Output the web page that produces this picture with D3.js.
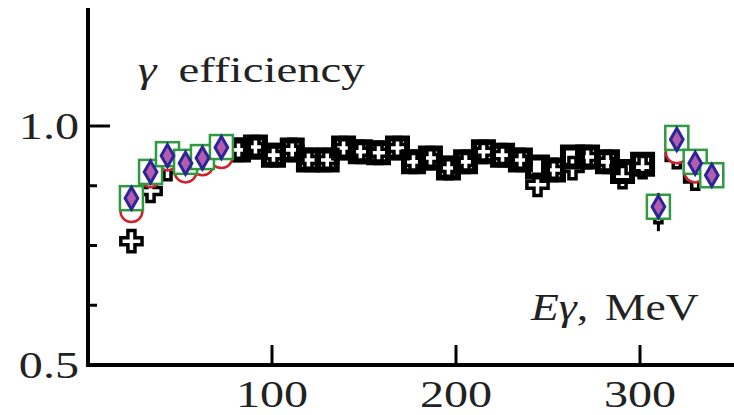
<!DOCTYPE html>
<html lang="en">
<head>
<meta charset="UTF-8">
<title>gamma efficiency</title>
<script src="https://cdn.jsdelivr.net/npm/d3@7"></script>
<style>
  body { margin: 0; background: #fff; }
  text { font-family: "Liberation Serif", "DejaVu Serif", serif; fill: #222; }
</style>
</head>
<body>
<svg width="734" height="415"></svg>
<script>
// photon energies (MeV) and efficiencies
var crossE = [23.6, 34, 43.2, 53, 62.2, 72.5, 81.8, 91, 100.8, 111, 119.8, 130, 138.9, 148, 157.9, 168.2, 176.9, 186.1,
              195.9, 205.2, 214.9, 225.3, 235, 244.3, 253, 263.3, 271.5, 282.3, 290.5, 301.4, 310, 320, 330, 339];
var crossV = [0.759, 0.864, 0.910, 0.915, 0.925, 0.940, 0.950, 0.956, 0.939, 0.950, 0.929, 0.929, 0.954, 0.946, 0.944, 0.954, 0.925, 0.933,
              0.912, 0.925, 0.946, 0.939, 0.929, 0.877, 0.908, 0.912, 0.935, 0.925, 0.893, 0.914, 0.820, 0.935, 0.890, 0.897];
var crossErr = [0.01, 0.01, 0.01, 0.01, 0.01, 0.01, 0.01, 0.01, 0.012, 0.012, 0.012, 0.012, 0.012, 0.012, 0.012, 0.012, 0.012, 0.012,
                0.015, 0.015, 0.015, 0.015, 0.015, 0.015, 0.015, 0.015, 0.015, 0.015, 0.018, 0.018, 0.04, 0.02, 0.02, 0.02];

var squareE = [81.8, 91, 100.8, 111, 119.8, 130, 138.9, 148, 157.9, 168.2, 176.9, 186.1, 195.9, 205.2, 214.9, 225.3,
               235, 244.3, 253, 263.3, 271.5, 282.3, 290.5, 301.4];
var squareV = [0.950, 0.956, 0.939, 0.950, 0.929, 0.929, 0.954, 0.946, 0.944, 0.954, 0.925, 0.933, 0.912, 0.925, 0.946, 0.939,
               0.929, 0.914, 0.908, 0.935, 0.935, 0.925, 0.905, 0.920];

var colE = [23.6, 34, 43.2, 53, 62.2, 72.5, 310, 320, 330, 339];
var greenV = [0.849, 0.904, 0.941, 0.925, 0.935, 0.956, 0.831, 0.975, 0.925, 0.897];
var redV = [0.822, 0.895, 0.930, 0.905, 0.920, 0.935, 0.831, 0.945, 0.905, 0.897];
var diamondV = [0.849, 0.904, 0.938, 0.922, 0.933, 0.955, 0.831, 0.972, 0.922, 0.897];

var xTicks = [100, 200, 300];
var yTicks = [0.5, 0.625, 0.75, 0.875, 1.0];
var yLabels = [0.5, 1.0];

var svg = d3.select("svg");
var x = d3.scaleLinear().domain([0, 350]).range([88, 732]);
var y = d3.scaleLinear().domain([0.5, 1.0]).range([365, 126]);
var stretch = 1.3;

// axes
svg.append("line").attr("x1", 88).attr("x2", 88).attr("y1", 8).attr("y2", 367)
    .attr("stroke", "#000").attr("stroke-width", 4);
svg.append("line").attr("x1", 86).attr("x2", 734).attr("y1", 365).attr("y2", 365)
    .attr("stroke", "#000").attr("stroke-width", 4);

svg.selectAll(".xt").data(xTicks).enter().append("line")
    .attr("x1", d => x(d)).attr("x2", d => x(d)).attr("y1", 365).attr("y2", 345)
    .attr("stroke", "#000").attr("stroke-width", 3);
svg.selectAll(".xl").data(xTicks).enter().append("text")
    .attr("transform", d => "translate(" + x(d) + ",407) scale(" + stretch + ",1)")
    .attr("text-anchor", "middle")
    .style("font-size", "37px").text(d => d);

svg.selectAll(".yt").data(yTicks.slice(1)).enter().append("line")
    .attr("x1", 88).attr("x2", d => d === 1.0 ? 110 : 97)
    .attr("y1", d => y(d)).attr("y2", d => y(d))
    .attr("stroke", "#000").attr("stroke-width", 3);
svg.selectAll(".yl").data(yLabels).enter().append("text")
    .attr("transform", d => "translate(79," + (y(d) + 13) + ") scale(" + stretch + ",1)")
    .attr("text-anchor", "end")
    .style("font-size", "37px").text(d => d.toFixed(1));

// titles
var t1 = svg.append("text").attr("transform", "translate(138,82) scale(" + stretch + ",1)")
    .style("font-size", "36px");
t1.append("tspan").style("font-style", "italic").text("γ");
t1.append("tspan").attr("dx", 17).text("efficiency");
var t2 = svg.append("text").attr("transform", "translate(531,320) scale(1.2,1)")
    .style("font-size", "38px");
t2.append("tspan").style("font-style", "italic").text("Eγ");
t2.append("tspan").text(",");
t2.append("tspan").attr("dx", 14).text("MeV");

// black crosses with error bars
svg.selectAll(".eb").data(crossE).enter().append("line")
    .attr("x1", d => x(d)).attr("x2", d => x(d))
    .attr("y1", (d, i) => y(crossV[i] - crossErr[i])).attr("y2", (d, i) => y(crossV[i] + crossErr[i]))
    .attr("stroke", "#000").attr("stroke-width", 3);
svg.selectAll(".cr").data(crossE).enter().append("path")
    .attr("transform", (d, i) => "translate(" + x(d) + "," + y(crossV[i]) + ")")
    .attr("d", d3.symbol().type(d3.symbolCross).size(250)())
    .attr("fill", "#fff").attr("stroke", "#000").attr("stroke-width", 3.5);

// black squares, thick outline
svg.selectAll(".sq").data(squareE).enter().append("path")
    .attr("transform", (d, i) => "translate(" + x(d) + "," + y(squareV[i]) + ")")
    .attr("d", d3.symbol().type(d3.symbolSquare).size(361)())
    .attr("fill", "none").attr("stroke", "#000").attr("stroke-width", 6);

// red circles
svg.selectAll(".rc").data(colE).enter().append("circle")
    .attr("cx", d => x(d)).attr("cy", (d, i) => y(redV[i])).attr("r", 11)
    .attr("fill", "#fff").attr("stroke", "#d0202a").attr("stroke-width", 2.5);

// green squares
svg.selectAll(".gs").data(colE).enter().append("rect")
    .attr("x", d => x(d) - 11.5).attr("y", (d, i) => y(greenV[i]) - 12)
    .attr("width", 23).attr("height", 24)
    .attr("fill", "#fff").attr("stroke", "#2f9a3f").attr("stroke-width", 2.5);

// diamonds
svg.selectAll(".dm").data(colE).enter().append("path")
    .attr("transform", (d, i) => "translate(" + x(d) + "," + y(diamondV[i]) + ")")
    .attr("d", d3.symbol().type(d3.symbolDiamond).size(140)())
    .attr("fill", "#b45cb0").attr("stroke", "#2b2596").attr("stroke-width", 3);
</script>
</body>
</html>
